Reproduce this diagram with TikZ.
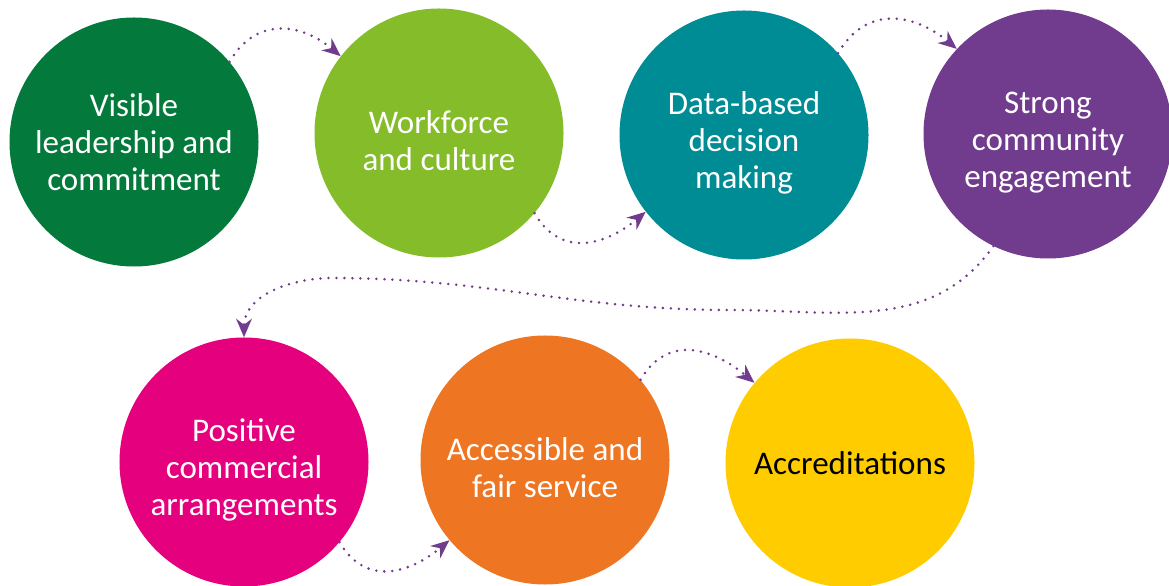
\documentclass[tikz,border=0pt]{standalone}
\usepackage{fontspec}
\setmainfont{Carlito}
\usetikzlibrary{arrows.meta}

\definecolor{darkgreen}{HTML}{037A3B}
\definecolor{limegreen}{HTML}{84BC2A}
\definecolor{teal}{HTML}{008C95}
\definecolor{violet}{HTML}{713B8E}
\definecolor{magenta}{HTML}{E5007D}
\definecolor{orange}{HTML}{EE7623}
\definecolor{yellow}{HTML}{FFCC00}
\newcommand{\dropstrut}{\rule{0pt}{27pt}}

\begin{document}
\begin{tikzpicture}[x=0.25mm, y=0.25mm,
		stage/.style={circle, minimum size=62.25mm, inner sep=0pt, align=center,
			text=white, font=\fontsize{23.5}{26.3}\selectfont},
		flow/.style={violet, line width=0.7mm, line cap=round, dash pattern=on 0pt off 2mm,
			-{Stealth[length=4.6mm, width=3.9mm, inset=1.5mm]}}]
				\useasboundingbox (0,0) rectangle (1169,585);
				\node [stage, fill=darkgreen] (vis) at (134,443) {Visible\\leadership and\\commitment};
				\node [stage, fill=limegreen] (wfc) at (439,452) {\dropstrut Workforce\\and culture};
				\node [stage, fill=teal] (dbd) at (744,450) {\dropstrut Data-based\\decision\\making};
				\node [stage, fill=violet] (scs) at (1048,451) {\dropstrut Strong\\community\\engagement};
				\node [stage, fill=magenta] (pca) at (244,123) {\dropstrut Positive\\commercial\\arrangements};
				\node [stage, fill=orange] (afs) at (545,125) {\dropstrut Accessible and\\fair service};
				\node [stage, fill=yellow, text=black] (acc) at (850,122) {Accreditations};
				\coordinate (dip) at (730,275);
				\coordinate (crest) at (332,307);
				\draw [flow] (vis.40) to [out=60, in=140, looseness=1.2] (wfc.142);
				\draw [flow] (wfc.-40) to [out=-60, in=-140, looseness=1.2] (dbd.-142);
				\draw [flow] (dbd.41) to [out=60, in=140, looseness=1.2] (scs.137);
				\draw [flow] (scs.-116) to [out=-125, in=0] (dip) to [out=180, in=0] (crest) to [out=180, in=90] (pca.north);
				\draw [flow] (pca.-40) to [out=-60, in=-140, looseness=1.2] (afs.-140);
				\draw [flow] (afs.40) to [out=60, in=140, looseness=1.2] (acc.140);
			\end{tikzpicture}
\end{document}
